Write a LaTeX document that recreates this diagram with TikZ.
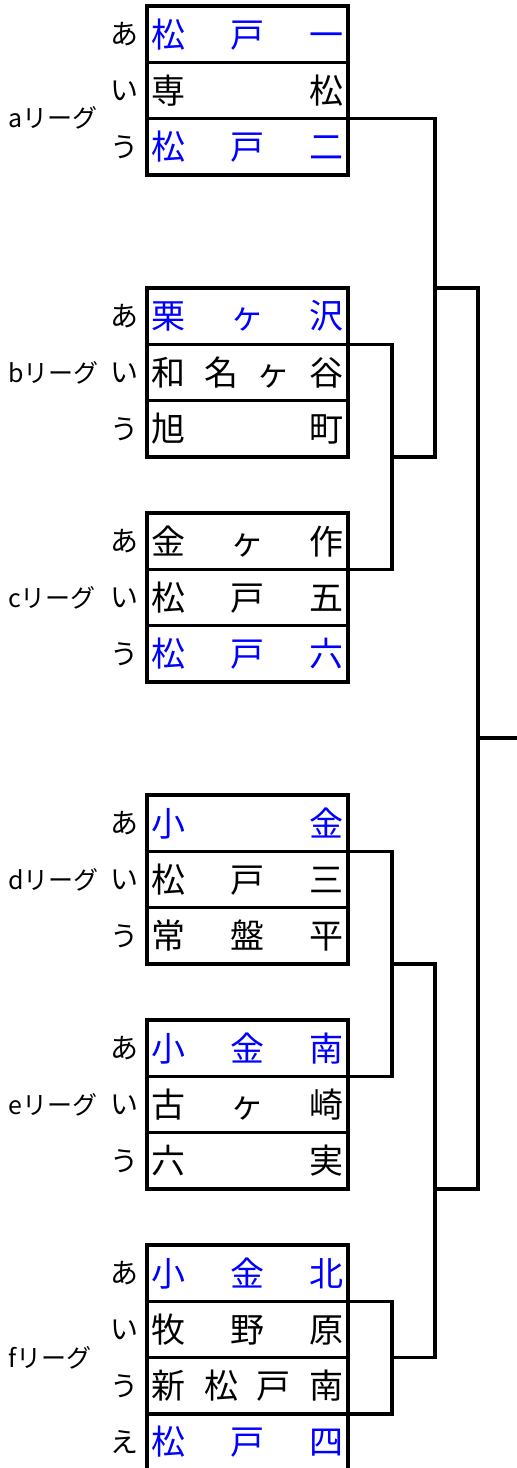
\documentclass[tikz,border=0pt]{standalone}
\usepackage{fontspec}
\setmainfont{Noto Sans CJK JP}
\usepackage{tikz}
\newcommand\spread[1]{\makebox[192pt][s]{#1}}
\tikzset{
  row/.style={draw, line width=3.3pt, minimum width=201pt, minimum height=56.3pt, inner sep=0pt, outer sep=0pt, font=\fontsize{34}{34}\selectfont},
  win/.style={row, text=blue},
  kana/.style={anchor=east, inner sep=0pt, font=\fontsize{28}{28}\selectfont},
  league/.style={anchor=west, inner sep=0pt, font=\fontsize{25}{25}\selectfont},
  bracket/.style={line width=3.3pt}
}
\begin{document}
\begin{tikzpicture}[x=1pt, y=-1pt]
\useasboundingbox (0,0) rectangle (517,1468);

\node[win] (a1) at (247.5,34.2) {\spread{松\hfill 戸\hfill 一}};
\node[row] (a2) at (247.5,90.5) {\spread{専\hfill 松}};
\node[win] (a3) at (247.5,146.8) {\spread{松\hfill 戸\hfill 二}};
\node[kana] (a1k) at (139,34.2) {あ};
\node[kana] (a2k) at (139,90.5) {い};
\node[kana] (a3k) at (139,146.8) {う};
\node[league] (la) at (8,118) {aリーグ};

\node[win] (b1) at (247.5,316.2) {\spread{栗\hfill ヶ\hfill 沢}};
\node[row] (b2) at (247.5,372.5) {\spread{和\hfill 名\hfill ヶ\hfill 谷}};
\node[row] (b3) at (247.5,428.8) {\spread{旭\hfill 町}};
\node[kana] (b1k) at (139,316.2) {あ};
\node[kana] (b2k) at (139,372.5) {い};
\node[kana] (b3k) at (139,428.8) {う};
\node[league] (lb) at (8,372.5) {bリーグ};

\node[row] (c1) at (247.5,541.2) {\spread{金\hfill ヶ\hfill 作}};
\node[row] (c2) at (247.5,597.5) {\spread{松\hfill 戸\hfill 五}};
\node[win] (c3) at (247.5,653.8) {\spread{松\hfill 戸\hfill 六}};
\node[kana] (c1k) at (139,541.2) {あ};
\node[kana] (c2k) at (139,597.5) {い};
\node[kana] (c3k) at (139,653.8) {う};
\node[league] (lc) at (8,597.5) {cリーグ};

\node[win] (d1) at (247.5,823.2) {\spread{小\hfill 金}};
\node[row] (d2) at (247.5,879.5) {\spread{松\hfill 戸\hfill 三}};
\node[row] (d3) at (247.5,935.8) {\spread{常\hfill 盤\hfill 平}};
\node[kana] (d1k) at (139,823.2) {あ};
\node[kana] (d2k) at (139,879.5) {い};
\node[kana] (d3k) at (139,935.8) {う};
\node[league] (ld) at (8,879.5) {dリーグ};

\node[win] (e1) at (247.5,1048.2) {\spread{小\hfill 金\hfill 南}};
\node[row] (e2) at (247.5,1104.5) {\spread{古\hfill ヶ\hfill 崎}};
\node[row] (e3) at (247.5,1160.8) {\spread{六\hfill 実}};
\node[kana] (e1k) at (139,1048.2) {あ};
\node[kana] (e2k) at (139,1104.5) {い};
\node[kana] (e3k) at (139,1160.8) {う};
\node[league] (le) at (8,1104.5) {eリーグ};

\node[win] (f1) at (247.5,1273.2) {\spread{小\hfill 金\hfill 北}};
\node[row] (f2) at (247.5,1329.5) {\spread{牧\hfill 野\hfill 原}};
\node[row] (f3) at (247.5,1385.8) {\spread{新\hfill 松\hfill 戸\hfill 南}};
\node[win] (f4) at (247.5,1442.1) {\spread{松\hfill 戸\hfill 四}};
\node[kana] (f1k) at (139,1273.2) {あ};
\node[kana] (f2k) at (139,1329.5) {い};
\node[kana] (f3k) at (139,1385.8) {う};
\node[kana] (f4k) at (139,1442.1) {え};
\node[league] (lf) at (8,1357.6) {fリーグ};

\coordinate (col1) at (392,0);
\coordinate (col2) at (435,0);
\coordinate (col3) at (478,0);
\coordinate (final) at (517,738);

\draw[bracket] (b1.south east) -| (col1 |- c1.south) -- (c1.south east);
\draw[bracket] (a2.south east) -| (col2 |- b3.south) -- (col1 |- b3.south);
\draw[bracket] (d1.south east) -| (col1 |- e1.south) -- (e1.south east);
\draw[bracket] (f1.south east) -| (col1 |- f3.south) -- (f3.south east);
\draw[bracket] (col1 |- d3.south) -| (col2 |- f2.south) -- (col1 |- f2.south);
\draw[bracket] (col2 |- b1.north) -| (col3 |- e3.south) -- (col2 |- e3.south);
\draw[bracket] (col3 |- final) -- (final);
\end{tikzpicture}
\end{document}
